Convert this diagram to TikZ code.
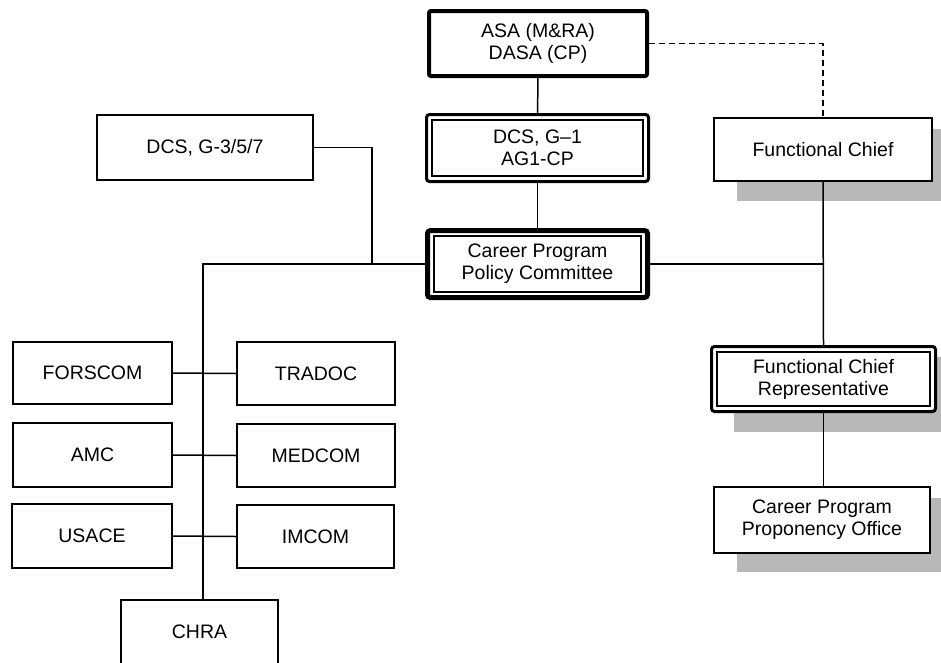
\documentclass[tikz,border=0pt]{standalone}
\usepackage{fontspec}
\setmainfont{Liberation Sans}
\usetikzlibrary{backgrounds}
\begin{document}
\begin{tikzpicture}[x=1pt,y=-1pt,
  box/.style={draw, fill=white, line width=1.8pt, align=center, inner sep=0pt,
    font=\fontsize{19.5}{22}\selectfont},
  thickbox/.style={box, line width=4pt, rounded corners=2pt},
  dblbox/.style={box, line width=3pt, rounded corners=3pt},
  heavybox/.style={box, line width=5pt, rounded corners=3pt},
  conn/.style={line width=1.5pt},
  dashconn/.style={line width=1.8pt, dash pattern=on 6pt off 4pt},
  shade/.style={fill=black!28}]
\useasboundingbox (0,0) rectangle (941,662);

% top column
\node[thickbox, minimum width=218pt, minimum height=65pt] (asa) at (538,43.5) {ASA (M\&RA)\\DASA (CP)};
\node[dblbox, minimum width=222pt, minimum height=67pt] (g1) at (537.5,148) {DCS, G--1\\AG1-CP};
\node[heavybox, minimum width=220pt, minimum height=67pt] (cppc) at (537.5,264) {Career Program\\Policy Committee};
\node[box, minimum width=216pt, minimum height=65pt] (g357) at (205,147.5) {DCS, G-3/5/7};

% right column
\node[box, minimum width=218pt, minimum height=63pt] (fc) at (823,149.5) {Functional Chief};
\node[dblbox, minimum width=224pt, minimum height=65pt] (fcr) at (823.5,379) {Functional Chief\\Representative};
\node[box, minimum width=216pt, minimum height=66pt] (cppo) at (822,520) {Career Program\\Proponency Office};

% commands
\node[box, minimum width=159pt, minimum height=62pt] (forscom) at (92.5,373) {FORSCOM};
\node[box, minimum width=158pt, minimum height=63pt] (tradoc) at (316,373.5) {TRADOC};
\node[box, minimum width=159pt, minimum height=64pt] (amc) at (92.5,455) {AMC};
\node[box, minimum width=158pt, minimum height=63pt] (medcom) at (316,455.5) {MEDCOM};
\node[box, minimum width=160pt, minimum height=64pt] (usace) at (92,536) {USACE};
\node[box, minimum width=157pt, minimum height=63pt] (imcom) at (315.5,536.5) {IMCOM};
\node[box, minimum width=157pt, minimum height=64pt] (chra) at (199.5,632) {CHRA};

% inner frames
\draw[line width=1.8pt] ([shift={(7pt,-7pt)}]g1.north west) rectangle ([shift={(-7pt,7pt)}]g1.south east);
\draw[line width=1.3pt] ([shift={(9pt,-8pt)}]cppc.north west) rectangle ([shift={(-9pt,8pt)}]cppc.south east);
\draw[line width=1.8pt] ([shift={(7pt,-7pt)}]fcr.north west) rectangle ([shift={(-7pt,7pt)}]fcr.south east);

% shadows
\begin{scope}[on background layer]
  \fill[shade] ([shift={(24pt,-12pt)}]fc.north west) rectangle ([shift={(9pt,-19pt)}]fc.south east);
  \fill[shade] ([shift={(24pt,-12pt)}]fcr.north west) rectangle ([shift={(4pt,-19pt)}]fcr.south east);
  \fill[shade] ([shift={(24pt,-12pt)}]cppo.north west) rectangle ([shift={(10pt,-18pt)}]cppo.south east);
\end{scope}

% junction coordinates
\coordinate (jl) at (203,264);
\coordinate (jm) at (372,264);
\coordinate (jr) at (fc.south |- cppc.east);

% connectors
\draw[conn] (asa) -- (g1);
\draw[conn] (g1) -- (cppc);
\draw[dashconn] (asa.east) -| (fc.north);
\draw[conn] (g357.east) -| (jm);
\draw[conn] (cppc.west) -- (jl) -- (jl |- chra.north);
\draw[conn] (cppc.east) -- (jr);
\draw[conn] (fc.south) -- (fcr.north);
\draw[conn] (fcr.south) -- (fcr.south |- cppo.north);
\draw[conn] (forscom.east) -- (tradoc.west);
\draw[conn] (amc.east) -- (medcom.west);
\draw[conn] (usace.east) -- (imcom.west);
\end{tikzpicture}
\end{document}
